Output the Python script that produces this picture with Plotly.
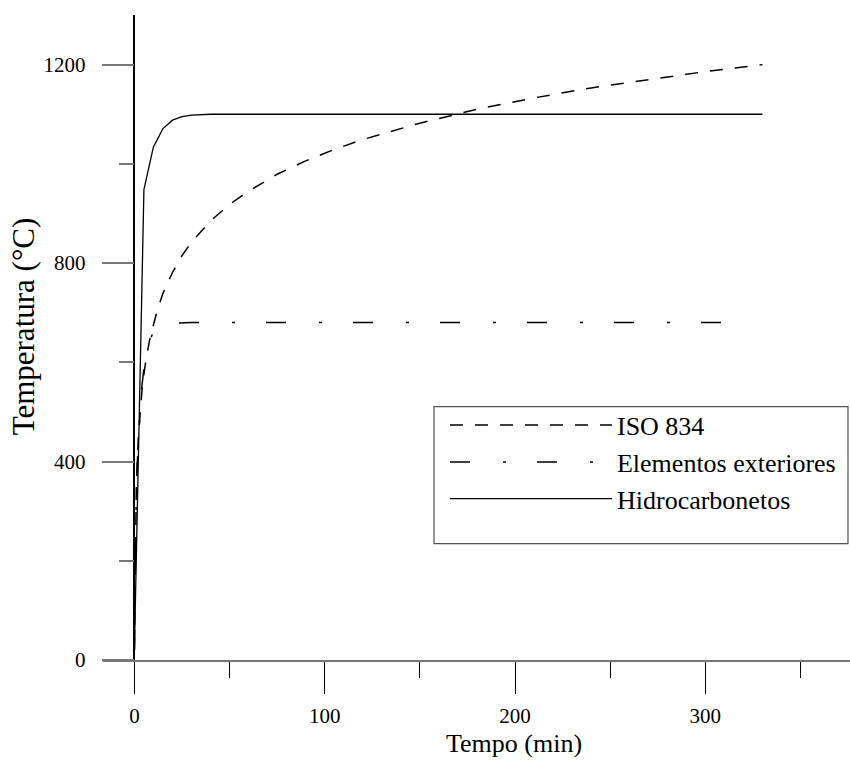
import plotly.graph_objects as go

# Standard fire curves: time (min) and gas temperature (°C)
t_iso = [0, 1, 2, 3, 4, 5, 6, 8, 10, 12, 15, 20, 25, 30, 40, 50, 60, 75, 90,
         105, 120, 150, 180, 210, 240, 270, 300, 330]
temp_iso = [20, 349, 445, 502, 544, 576, 603, 645, 678, 705, 739, 781, 815, 842,
            885, 918, 945, 979, 1006, 1029, 1049, 1082, 1110, 1133, 1153, 1170,
            1186, 1200]

t_ext = [0, 1, 2, 3, 4, 5, 7.5, 10, 15, 20, 25, 30, 60, 120, 180, 240, 310]
temp_ext = [20, 346, 441, 506, 554, 588, 639, 661, 676, 679, 680, 680, 680, 680,
            680, 680, 680]

t_hc = [0, 5, 10, 15, 20, 25, 30, 35, 40, 50, 60, 120, 180, 240, 300, 330]
temp_hc = [20, 948, 1034, 1071, 1088, 1095, 1098, 1099, 1100, 1100, 1100, 1100,
           1100, 1100, 1100, 1100]

names = ["ISO 834", "Elementos exteriores", "Hidrocarbonetos"]
x_title = "Tempo (min)"
y_title = "Temperatura (°C)"

FONT = "Liberation Serif"

fig = go.Figure()
fig.add_trace(go.Scatter(x=t_iso, y=temp_iso, mode="lines", name=names[0],
                         line=dict(color="black", width=1.5, dash="13px,12px")))
fig.add_trace(go.Scatter(x=t_ext, y=temp_ext, mode="lines", name=names[1],
                         line=dict(color="black", width=1.5,
                                   dash="20px,33px,3px,31px")))
fig.add_trace(go.Scatter(x=t_hc, y=temp_hc, mode="lines", name=names[2],
                         line=dict(color="black", width=1.3)))

# legend frame
fig.add_shape(type="rect", xref="paper", yref="paper",
              x0=0.4431, x1=0.9973, y0=0.1803, y1=0.3927,
              line=dict(color="#555555", width=1.2), fillcolor="rgba(0,0,0,0)")

# axis titles
fig.add_annotation(text=x_title, xref="paper", yref="paper",
                   x=0.550, y=-0.1298, xanchor="center", yanchor="middle",
                   showarrow=False, borderpad=0,
                   font=dict(family=FONT, size=26, color="black"))
fig.add_annotation(text=y_title, xref="paper", yref="paper",
                   x=-0.106, y=0.517, xanchor="center", yanchor="middle",
                   textangle=-90, showarrow=False,
                   font=dict(family=FONT, size=31, color="black"))

fig.update_layout(
    width=850, height=760,
    margin=dict(l=103, r=0, t=15, b=100),
    paper_bgcolor="white", plot_bgcolor="white",
    font=dict(family=FONT, color="black", size=21),
    showlegend=True,
    legend=dict(x=0.4578, y=0.4005, xanchor="left", yanchor="top",
                font=dict(family=FONT, size=26, color="black"),
                itemwidth=162, bgcolor="rgba(0,0,0,0)", borderwidth=0,
                tracegroupgap=0),
    xaxis=dict(
        range=[-16.5, 376], showgrid=False, zeroline=False,
        showline=True, linecolor="#777777", linewidth=1.5,
        tickmode="array", tickvals=[0, 100, 200, 300],
        ticks="outside", ticklen=32, tickwidth=1.2, tickcolor="black",
        minor=dict(tickvals=[50, 150, 250, 350], ticks="outside", ticklen=16,
                   tickwidth=1.2, tickcolor="black"),
        ticklabelstandoff=4,
        tickfont=dict(family=FONT, size=21, color="black"),
    ),
    yaxis=dict(
        range=[0, 1300], showgrid=False, zeroline=False,
        anchor="free", position=0.042,
        showline=True, linecolor="black", linewidth=1.5,
        tickmode="array", tickvals=[0, 400, 800, 1200],
        ticks="outside", ticklen=32, tickwidth=1.5, tickcolor="#777777",
        minor=dict(tickvals=[200, 600, 1000], ticks="outside", ticklen=15,
                   tickwidth=1.5, tickcolor="#777777"),
        ticklabelstandoff=12,
        tickfont=dict(family=FONT, size=21, color="black"),
    ),
)

fig.write_html("out.html")
